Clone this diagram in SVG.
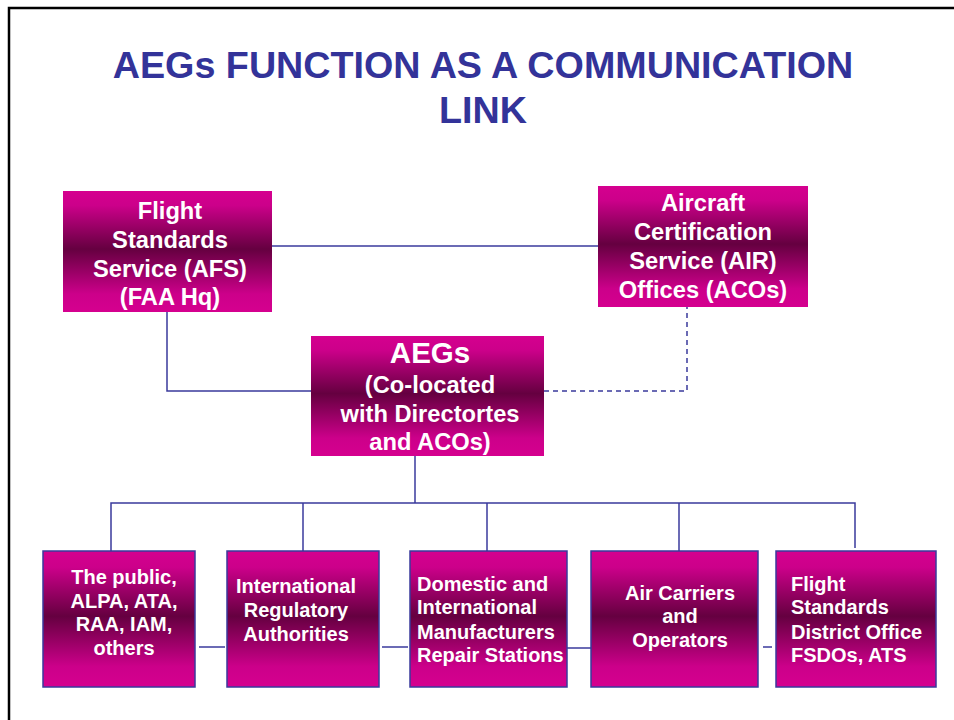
<svg xmlns="http://www.w3.org/2000/svg" width="954" height="720" viewBox="0 0 954 720">
<defs>
<linearGradient id="g" x1="0" y1="0" x2="0" y2="1">
<stop offset="0" stop-color="#d5008f"/>
<stop offset="0.12" stop-color="#cc008a"/>
<stop offset="0.48" stop-color="#650040"/>
<stop offset="0.85" stop-color="#cc008a"/>
<stop offset="1" stop-color="#d5008f"/>
</linearGradient>
<style>
.box{fill:url(#g);}
.bbox{fill:url(#g);stroke:#3a3a9c;stroke-width:1.5;}
.t{font-family:"Liberation Sans",Arial,sans-serif;font-weight:bold;fill:#ffffff;}
.c{text-anchor:middle;}
.line{fill:none;stroke:#3a3a9c;stroke-width:1.5;}
.dash{fill:none;stroke:#3a3a9c;stroke-width:1.5;stroke-dasharray:5,4;}
.title{font-family:"Liberation Sans",Arial,sans-serif;font-weight:bold;fill:#333399;font-size:37.7px;text-anchor:middle;}
</style>
</defs>
<rect x="0" y="0" width="954" height="720" fill="#ffffff"/>
<path d="M9 720 V8 H960" fill="none" stroke="#000000" stroke-width="2.5"/>
<g id="title">
<text class="title" x="483" y="78">AEGs FUNCTION AS A COMMUNICATION</text>
<text class="title" x="483" y="123">LINK</text>
</g>
<g id="connectors">
<path class="line" d="M272 246 H598"/>
<path class="line" d="M167 312 V391 H311"/>
<path class="dash" d="M544 391 H687 V307"/>
<path class="line" d="M415 456 V503"/>
<path class="line" d="M111 551 V503 H855 V548"/>
<path class="line" d="M303 503 V551"/>
<path class="line" d="M487 503 V551"/>
<path class="line" d="M679 503 V551"/>
<path class="line" d="M199 647 H225"/>
<path class="line" d="M382 647 H408"/>
<path class="line" d="M567 648 H591"/>
<path class="line" d="M763 647 H772"/>
</g>
<g id="afs">
<rect class="box" x="63" y="191" width="209" height="121"/>
<text class="t c" font-size="23.7" x="170" y="219">Flight</text>
<text class="t c" font-size="23.7" x="170" y="248">Standards</text>
<text class="t c" font-size="23.7" x="170" y="277">Service (AFS)</text>
<text class="t c" font-size="23.7" x="170" y="305">(FAA Hq)</text>
</g>
<g id="air">
<rect class="box" x="598" y="186" width="210" height="121"/>
<text class="t c" font-size="23.7" x="703" y="211">Aircraft</text>
<text class="t c" font-size="23.7" x="703" y="240">Certification</text>
<text class="t c" font-size="23.7" x="703" y="269">Service (AIR)</text>
<text class="t c" font-size="23.7" x="703" y="298">Offices (ACOs)</text>
</g>
<g id="aegs">
<rect class="box" x="311" y="336" width="233" height="120"/>
<text class="t c" font-size="29.5" x="430" y="363">AEGs</text>
<text class="t c" font-size="23.7" x="430" y="393">(Co-located</text>
<text class="t c" font-size="23.7" x="430" y="422">with Directortes</text>
<text class="t c" font-size="23.7" x="430" y="450">and ACOs)</text>
</g>
<g id="public">
<rect class="bbox" x="43" y="551" width="152" height="136"/>
<text class="t c" font-size="20" x="124" y="584">The public,</text>
<text class="t c" font-size="20" x="124" y="608">ALPA, ATA,</text>
<text class="t c" font-size="20" x="124" y="631">RAA, IAM,</text>
<text class="t c" font-size="20" x="124" y="655">others</text>
</g>
<g id="intl">
<rect class="bbox" x="227" y="551" width="152" height="136"/>
<text class="t c" font-size="20" x="296" y="593">International</text>
<text class="t c" font-size="20" x="296" y="617">Regulatory</text>
<text class="t c" font-size="20" x="296" y="641">Authorities</text>
</g>
<g id="mfr">
<rect class="bbox" x="410" y="551" width="157" height="136"/>
<text class="t" font-size="20" x="417" y="591">Domestic and</text>
<text class="t" font-size="20" x="417" y="614">International</text>
<text class="t" font-size="20" x="417" y="639">Manufacturers</text>
<text class="t" font-size="20" x="417" y="662">Repair Stations</text>
</g>
<g id="carriers">
<rect class="bbox" x="591" y="551" width="167" height="136"/>
<text class="t c" font-size="20" x="680" y="600">Air Carriers</text>
<text class="t c" font-size="20" x="680" y="623">and</text>
<text class="t c" font-size="20" x="680" y="647">Operators</text>
</g>
<g id="fsdo">
<rect class="bbox" x="776" y="551" width="160" height="136"/>
<text class="t" font-size="20" x="791" y="591">Flight</text>
<text class="t" font-size="20" x="791" y="614">Standards</text>
<text class="t" font-size="20" x="791" y="639">District Office</text>
<text class="t" font-size="20" x="791" y="662">FSDOs, ATS</text>
</g>
</svg>
